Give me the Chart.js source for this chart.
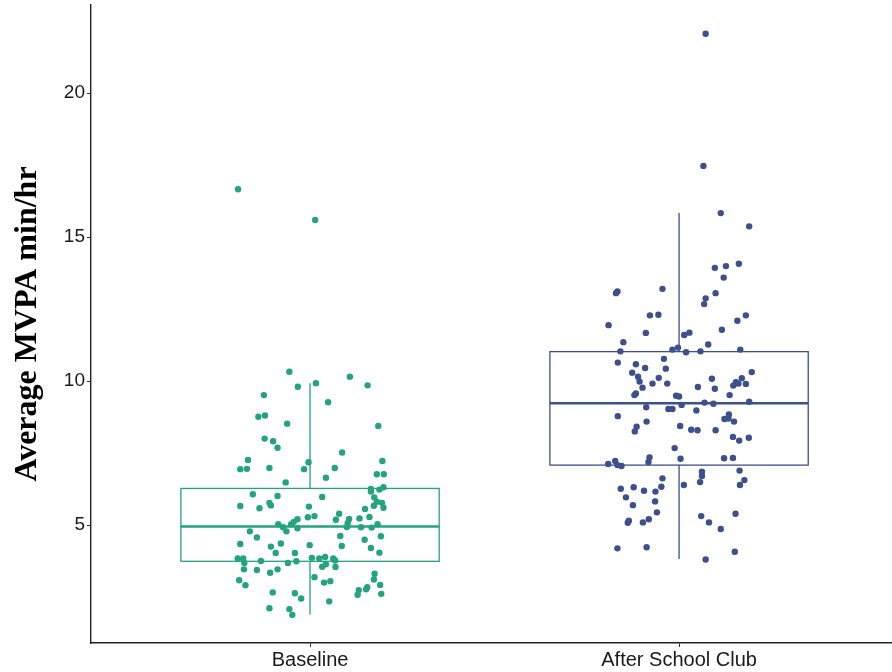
<!DOCTYPE html>
<html>
<head>
<meta charset="utf-8">
<script src="https://cdn.jsdelivr.net/npm/chart.js@4.4.1/dist/chart.umd.min.js"></script>
<style>
  html, body { margin: 0; padding: 0; background: #fff; }
  #chart { display: block; }
</style>
</head>
<body>
<canvas id="chart" width="892" height="672"></canvas>
<script>
const categories = ['Baseline', 'After School Club'];
const yTicks = [5, 10, 15, 20];

// box statistics, one entry per category
const q1 = [3.74, 7.08];
const median = [4.95, 9.23];
const q3 = [6.27, 11.02];
const whiskerLow = [1.89, 3.82];
const whiskerHigh = [9.92, 15.83];

// jittered points: value and horizontal jitter (in category units)
const baselineValues = [16.66, 15.59, 10.32, 9.80, 9.92, 9.51, 8.76, 8.80, 8.52, 8.00,
  7.91, 7.68, 7.26, 6.94, 6.95, 6.98, 7.18, 6.94, 6.48, 10.15,
  9.85, 9.26, 8.44, 7.52, 7.22, 6.98, 6.64, 6.76, 6.76, 6.31,
  6.25, 6.07, 6.01, 5.77, 5.68, 5.66, 5.58, 5.64, 5.27, 5.31,
  5.03, 4.92, 5.03, 5.11, 5.20, 4.89, 4.78, 4.78, 4.57, 4.34,
  4.25, 4.36, 4.03, 4.03, 4.30, 3.84, 3.84, 3.68, 3.75, 3.68,
  3.74, 3.86, 3.46, 3.44, 3.34, 3.46, 3.19, 3.08, 2.91, 2.66,
  2.63, 2.45, 2.11, 2.08, 1.88, 5.97, 6.16, 6.23, 5.96, 5.81,
  5.77, 5.67, 5.60, 5.56, 5.39, 5.18, 5.21, 5.23, 5.28, 5.06,
  4.93, 4.92, 4.91, 5.03, 4.62, 4.61, 4.49, 4.27, 4.20, 4.04,
  3.84, 3.89, 3.84, 3.77, 3.64, 3.55, 3.54, 3.31, 3.11, 3.00,
  3.05, 2.92, 2.84, 2.77, 2.74, 2.58, 2.61, 2.35];
const baselineJitter = [-0.195, 0.014, -0.056, -0.033, 0.016, -0.125, -0.140, -0.122, -0.062, -0.123,
  -0.100, -0.088, -0.168, -0.189, -0.171, -0.110, -0.004, -0.016, -0.066, 0.108,
  0.156, 0.049, 0.185, 0.087, 0.196, 0.067, 0.043, 0.181, 0.200, 0.199,
  0.165, -0.155, -0.088, -0.110, -0.106, -0.189, -0.137, -0.003, -0.006, 0.012,
  -0.086, -0.073, -0.051, -0.044, -0.034, -0.034, -0.064, -0.163, -0.144, -0.189,
  -0.106, -0.079, -0.093, -0.041, -0.001, -0.196, -0.181, -0.178, -0.133, -0.060,
  -0.037, 0.005, -0.179, -0.144, -0.108, -0.088, 0.012, -0.192, -0.175, -0.101,
  -0.041, -0.024, -0.110, -0.056, -0.048, 0.033, 0.165, 0.188, 0.174, 0.181,
  0.195, 0.173, 0.199, 0.149, 0.079, 0.070, 0.106, 0.134, 0.161, 0.102,
  0.100, 0.138, 0.167, 0.183, 0.082, 0.192, 0.148, 0.086, 0.165, 0.188,
  0.025, 0.041, 0.063, 0.068, 0.043, 0.033, 0.069, 0.175, 0.173, 0.038,
  0.055, 0.190, 0.155, 0.152, 0.132, 0.129, 0.193, 0.052];

const clubValues = [22.06, 17.47, 15.83, 15.37, 13.93, 13.99, 14.07, 13.59, 13.11, 13.05,
  13.20, 13.05, 12.87, 12.67, 12.28, 12.30, 12.28, 12.09, 11.94, 11.67,
  11.78, 11.68, 11.60, 11.35, 11.27, 11.03, 11.09, 11.16, 11.00, 11.03,
  11.09, 10.64, 10.58, 10.45, 10.77, 10.43, 10.29, 10.15, 9.98, 10.11,
  9.91, 9.91, 9.77, 9.57, 9.51, 9.49, 9.46, 9.09, 9.03, 9.03,
  10.31, 10.08, 10.10, 9.96, 9.84, 9.91, 9.90, 9.79, 9.73, 9.51,
  9.17, 9.25, 9.21, 9.28, 8.98, 8.78, 8.59, 8.41, 8.25, 8.44,
  7.67, 7.30, 7.35, 7.19, 7.12, 7.22, 7.08, 7.05, 6.62, 6.26,
  6.31, 6.19, 6.16, 6.33, 5.96, 5.82, 5.69, 5.44, 5.15, 5.08,
  5.09, 5.20, 4.19, 4.23, 8.84, 8.68, 8.70, 8.59, 8.31, 8.29,
  8.29, 8.06, 7.93, 8.03, 7.32, 7.33, 6.85, 6.70, 6.49, 6.89,
  6.56, 6.39, 6.39, 5.31, 5.09, 5.39, 4.86, 4.07, 3.80];
const clubJitter = [0.072, 0.066, 0.113, 0.190, 0.097, 0.127, 0.162, 0.121, -0.167, -0.171,
  -0.045, 0.099, 0.072, 0.068, -0.079, -0.056, 0.181, 0.158, -0.191, -0.090,
  0.116, 0.028, 0.014, -0.151, 0.079, -0.159, -0.018, -0.003, 0.019, 0.058,
  0.166, -0.166, -0.117, -0.092, -0.041, -0.036, -0.127, -0.111, -0.107, -0.055,
  -0.072, -0.032, -0.099, -0.117, -0.121, -0.008, 0.000, -0.089, -0.029, -0.018,
  0.197, 0.089, 0.170, 0.154, 0.147, 0.161, 0.181, 0.051, 0.097, 0.137,
  0.007, 0.069, 0.093, 0.190, 0.047, -0.166, -0.088, -0.115, -0.120, 0.003,
  -0.012, 0.004, -0.080, -0.083, -0.192, -0.173, -0.167, -0.156, -0.045, -0.158,
  -0.123, -0.095, -0.064, -0.048, -0.144, -0.065, -0.125, -0.060, -0.136, -0.139,
  -0.098, -0.082, -0.167, -0.088, 0.135, 0.123, 0.134, 0.149, 0.033, 0.050,
  0.099, 0.146, 0.163, 0.189, 0.122, 0.146, 0.062, 0.062, 0.057, 0.164,
  0.177, 0.165, 0.013, 0.060, 0.081, 0.153, 0.113, 0.151, 0.072];

const colors = ['#23a47e', '#3d4f8c'];
const boxHalf = 0.35;

function points(values, jitter, pos) {
  return values.map((v, i) => ({ x: pos + jitter[i], y: v }));
}

// draws the box, median and whiskers under the points
const boxPlugin = {
  id: 'boxes',
  beforeDatasetsDraw(chart) {
    const ctx = chart.ctx;
    const x = chart.scales.x, y = chart.scales.y;
    categories.forEach((c, i) => {
      const pos = i + 1;
      const l = x.getPixelForValue(pos - boxHalf);
      const r = x.getPixelForValue(pos + boxHalf);
      const m = x.getPixelForValue(pos);
      const top = y.getPixelForValue(q3[i]);
      const bot = y.getPixelForValue(q1[i]);
      ctx.save();
      ctx.strokeStyle = colors[i];
      ctx.lineWidth = 1.3;
      ctx.strokeRect(l, top, r - l, bot - top);
      ctx.beginPath();
      ctx.moveTo(m, top);
      ctx.lineTo(m, y.getPixelForValue(whiskerHigh[i]));
      ctx.moveTo(m, bot);
      ctx.lineTo(m, y.getPixelForValue(whiskerLow[i]));
      ctx.stroke();
      ctx.lineWidth = 2.4;
      ctx.beginPath();
      const md = y.getPixelForValue(median[i]);
      ctx.moveTo(l, md);
      ctx.lineTo(r, md);
      ctx.stroke();
      ctx.restore();
    });
  }
};

new Chart(document.getElementById('chart'), {
  type: 'scatter',
  data: {
    datasets: [
      { data: points(baselineValues, baselineJitter, 1), backgroundColor: colors[0] },
      { data: points(clubValues, clubJitter, 2), backgroundColor: colors[1] }
    ]
  },
  options: {
    responsive: false,
    animation: false,
    layout: { autoPadding: false, padding: { top: 5, right: 0, bottom: 0, left: 0 } },
    elements: { point: { radius: 3.2, borderWidth: 0, hoverRadius: 3.2 } },
    plugins: { legend: { display: false }, tooltip: { enabled: false } },
    scales: {
      x: {
        type: 'linear',
        min: 0.4065,
        max: 2.577,
        afterBuildTicks: (s) => { s.ticks = categories.map((c, i) => ({ value: i + 1 })); },
        afterFit: (s) => { s.height = 29; s.paddingLeft = 0; s.paddingRight = 0; },
        border: { display: true, color: '#222', width: 1.4 },
        grid: { display: true, drawOnChartArea: false, drawTicks: true, tickLength: 4, color: '#333' },
        ticks: {
          autoSkip: false,
          maxRotation: 0,
          padding: 1,
          color: '#1a1a1a',
          font: { family: 'Liberation Sans', size: 20 },
          callback: (v) => categories[v - 1]
        }
      },
      y: {
        min: 0.903,
        max: 23.056,
        afterBuildTicks: (s) => { s.ticks = yTicks.map(v => ({ value: v })); },
        afterFit: (s) => { s.width = 91; s.paddingTop = 0; s.paddingBottom = 0; },
        border: { display: true, color: '#222', width: 1.4 },
        grid: { display: true, drawOnChartArea: false, drawTicks: true, tickLength: 4, color: '#333' },
        ticks: {
          padding: 2,
          color: '#1a1a1a',
          font: { family: 'Liberation Sans', size: 19 }
        },
        title: {
          display: true,
          text: 'Average MVPA min/hr',
          color: '#000',
          padding: { top: 9, bottom: 0 },
          font: { family: 'Liberation Serif', size: 32, weight: 'bold' }
        }
      }
    }
  },
  plugins: [boxPlugin]
});
</script>
</body>
</html>
